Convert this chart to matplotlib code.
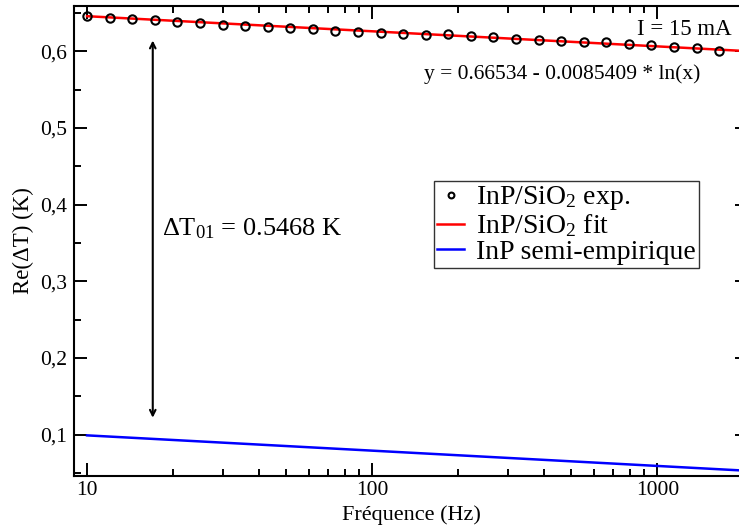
import matplotlib
matplotlib.use("Agg")
import matplotlib.pyplot as plt
from matplotlib.ticker import FixedLocator, LogLocator, NullFormatter, FuncFormatter

plt.rcParams['font.family'] = ['Liberation Serif', 'DejaVu Serif']
plt.rcParams['mathtext.fontset'] = 'custom'
plt.rcParams['mathtext.rm'] = 'Liberation Serif'
plt.rcParams['mathtext.it'] = 'Liberation Serif:italic'

# measured points (Hz, K)
freq = [10, 12, 14.4, 17.28, 20.74, 24.88, 29.86, 35.83, 43.0, 51.6,
        61.9, 74.3, 89.2, 107, 128.4, 154.1, 184.9, 221.9, 266.2, 319.5,
        383.4, 460.1, 552.1, 662.5, 795, 954, 1145, 1374, 1649]
re_dt = [0.6463, 0.6437, 0.6420, 0.6403, 0.6381, 0.6364, 0.6338, 0.6333, 0.6312, 0.6299,
         0.6286, 0.6264, 0.6247, 0.6234, 0.6225, 0.6212, 0.6221, 0.6195, 0.6186, 0.6158,
         0.6143, 0.6134, 0.6125, 0.6116, 0.6098, 0.6077, 0.6055, 0.6038, 0.6007]

# fit line (log fit, straight on log axis)
fit_x = [10, 2100]
fit_y = [0.6457, 0.6000]

# semi-empirical InP
semi_x = [10, 2100]
semi_y = [0.0990, 0.0527]

arrow_f = 17
arrow_top = 0.614
arrow_bot = 0.122

fig = plt.figure(figsize=(7.39, 5.29), dpi=100)
ax = fig.add_axes([74/739, 1 - 476/529, (748 - 74)/739, (476 - 6)/529])

ax.plot(fit_x, fit_y, color='red', lw=1.8, label='InP/SiO$_2$ fit', zorder=2)
ax.plot(freq, re_dt, 'o', mfc='none', mec='black', mew=1.5, ms=6,
        label='InP/SiO$_2$ exp.', zorder=3)
ax.plot(semi_x, semi_y, color='blue', lw=1.8, label='InP semi-empirique', zorder=2)

ax.annotate('', xy=(arrow_f, arrow_top), xytext=(arrow_f, arrow_bot),
            arrowprops=dict(arrowstyle='<->', color='black', lw=1.5,
                            shrinkA=0, shrinkB=0))
ax.text(18.3, 0.368, 'ΔT$_{01}$ = 0.5468 K', fontsize=19, va='center', ha='left')
ax.text(0.975, 0.949, 'I = 15 mA', transform=ax.transAxes, fontsize=16.5,
        ha='right', va='center')
ax.text(0.929, 0.855, 'y = 0.66534 - 0.0085409 * ln(x)', transform=ax.transAxes,
        fontsize=15.5, ha='right', va='center')

ax.set_xscale('log')
ax.set_xlim(9, 2080)
ax.set_ylim(0.046, 0.659)

ax.xaxis.set_major_locator(FixedLocator([10, 100, 1000]))
ax.xaxis.set_major_formatter(FuncFormatter(lambda v, p: '%d' % v))
ax.xaxis.set_minor_locator(LogLocator(base=10, subs=range(2, 10)))
ax.xaxis.set_minor_formatter(NullFormatter())
ax.yaxis.set_major_locator(FixedLocator([0.1, 0.2, 0.3, 0.4, 0.5, 0.6]))
ax.yaxis.set_major_formatter(FuncFormatter(lambda v, p: ('%.1f' % v).replace('.', ',')))
ax.yaxis.set_minor_locator(FixedLocator([0.05, 0.15, 0.25, 0.35, 0.45, 0.55, 0.65]))

ax.tick_params(which='both', direction='in', top=True, right=True, width=1.4,
               labelsize=15.5)
ax.tick_params(axis='y', pad=5)
ax.tick_params(which='major', length=9.5)
ax.tick_params(which='minor', length=5)
for s in ax.spines.values():
    s.set_linewidth(1.5)

ax.set_xlabel('Fréquence (Hz)', fontsize=16, labelpad=4)
ax.set_ylabel('Re(ΔT) (K)', fontsize=16.5, labelpad=4)

leg = ax.legend(handles=[ax.lines[1], ax.lines[0], ax.lines[2]],
                loc='upper left', bbox_to_anchor=(434/739, 1 - 181/529),
                bbox_transform=fig.transFigure, fontsize=20, frameon=True,
                fancybox=False, edgecolor='black', handlelength=0.95,
                handletextpad=0.45, borderpad=0.12, labelspacing=0.0,
                borderaxespad=0, markerscale=0.7)
leg.get_frame().set_linewidth(1.0)

fig.savefig('out.png', dpi=100)
